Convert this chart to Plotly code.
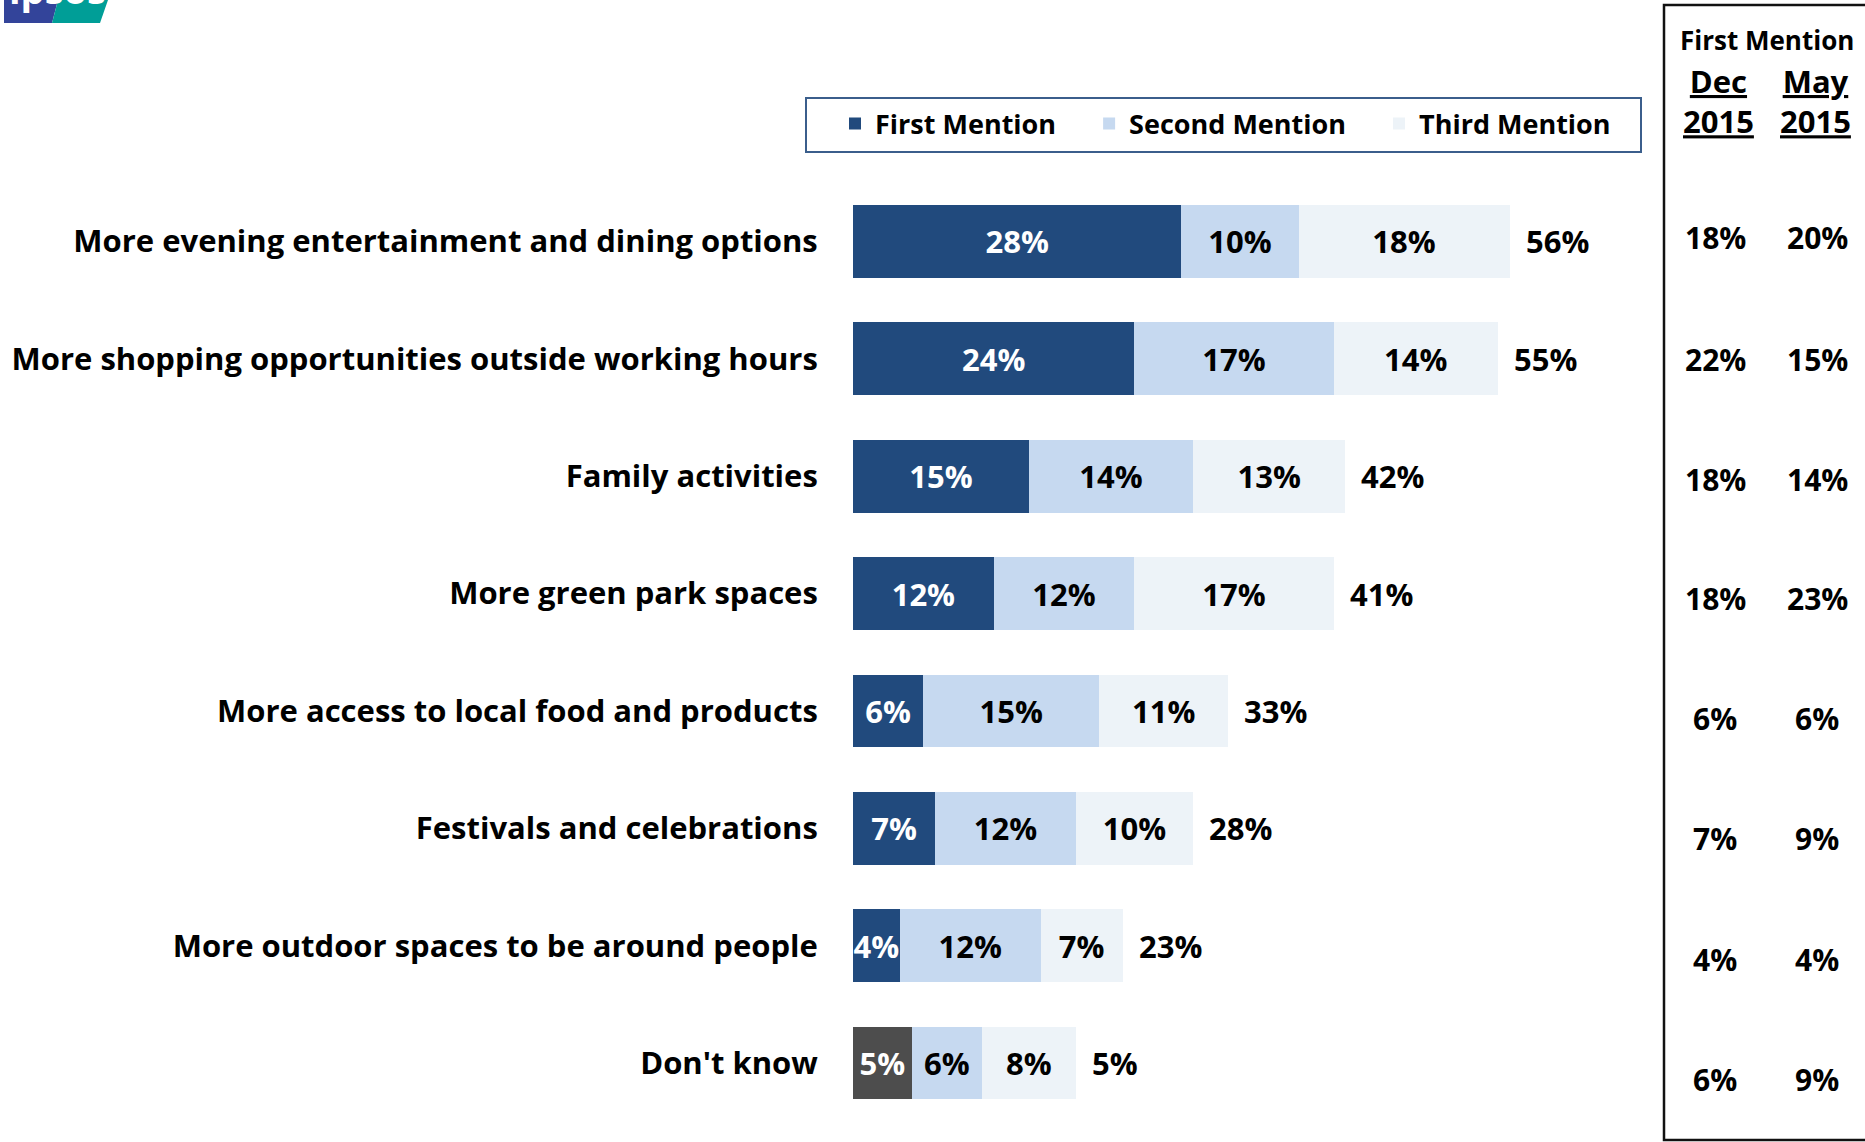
import plotly.graph_objects as go

W, H = 1865, 1142

categories = [
    "More evening entertainment and dining options",
    "More shopping opportunities outside working hours",
    "Family activities",
    "More green park spaces",
    "More access to local food and products",
    "Festivals and celebrations",
    "More outdoor spaces to be around people",
    "Don't know",
]
first_mention = [28, 24, 15, 12, 6, 7, 4, 5]
second_mention = [10, 17, 14, 12, 15, 12, 12, 6]
third_mention = [18, 14, 13, 17, 11, 10, 7, 8]
totals = [56, 55, 42, 41, 33, 28, 23, 5]
dec_2015 = [18, 22, 18, 18, 6, 7, 4, 6]
may_2015 = [20, 15, 14, 23, 6, 9, 4, 9]
series_names = ["First Mention", "Second Mention", "Third Mention"]

NAVY = "#214A7D"
LIGHT = "#C6D9F0"
PALE = "#EDF3F8"
GREY = "#4D4D4D"
FONT = "Open Sans"

def px(x):
    return x / W

def py(y):
    return 1 - y / H

first_colors = [GREY if c == "Don't know" else NAVY for c in categories]

VAL_SIZE = 31
PAD = "\u00a0" * 4  # extra spacing between legend entries

fig = go.Figure()
for name, vals, color, tcolor in [
    (series_names[0], first_mention, first_colors, "white"),
    (series_names[1], second_mention, LIGHT, "black"),
    (series_names[2], third_mention, PALE, "black"),
]:
    fig.add_trace(go.Bar(
        y=categories, x=vals, orientation="h", name=name + PAD,
        marker=dict(color=color, line=dict(width=0)),
        text=[f"{v}%" for v in vals], textposition="inside",
        insidetextanchor="middle", textangle=0, constraintext="none",
        textfont=dict(family=FONT, size=VAL_SIZE, color=tcolor, weight="bold"),
        width=0.62, hoverinfo="skip",
    ))

annotations = []
# totals after the bars
for c, a, b, d, t in zip(categories, first_mention, second_mention, third_mention, totals):
    annotations.append(dict(
        x=a + b + d, y=c, xref="x", yref="y", text=f"{t}%", showarrow=False,
        xanchor="left", yanchor="middle", xshift=14,
        font=dict(family=FONT, size=VAL_SIZE, color="black", weight="bold"),
    ))

# right panel headers
annotations.append(dict(x=px(1767), y=py(40), xref="paper", yref="paper", text="<b>First Mention</b>",
                        xanchor="center", yanchor="middle",
                        showarrow=False, font=dict(family=FONT, size=26, color="black")))
for xc, word in [(1718, "Dec"), (1815, "May")]:
    annotations.append(dict(x=px(xc), y=py(101), xref="paper", yref="paper",
                            text=f"<b><u>{word}</u></b><br><b><u>2015</u></b>",
                            xanchor="center", yanchor="middle",
                            showarrow=False, font=dict(family=FONT, size=31, color="black")))

# right panel values
right_y = [238, 359, 479, 598, 718, 838, 959, 1079]
for yy, d, m in zip(right_y, dec_2015, may_2015):
    annotations.append(dict(x=px(1715), y=py(yy), xref="paper", yref="paper", text=f"<b>{d}%</b>",
                            xanchor="center", yanchor="middle",
                            showarrow=False, font=dict(family=FONT, size=30, color="black")))
    annotations.append(dict(x=px(1817), y=py(yy), xref="paper", yref="paper", text=f"<b>{m}%</b>",
                            xanchor="center", yanchor="middle",
                            showarrow=False, font=dict(family=FONT, size=30, color="black")))

# logo text
annotations.append(dict(x=px(57), y=py(17), xref="paper", yref="paper", text="<b>ipsos</b>",
                        showarrow=False, yanchor="bottom", xanchor="center",
                        font=dict(family=FONT, size=38, color="white")))

shapes = [
    # logo
    dict(type="path", xref="paper", yref="paper",
         path=f"M {px(4)} {py(0)} L {px(58)} {py(0)} L {px(52)} {py(23)} L {px(4)} {py(23)} Z",
         fillcolor="#33449A", line=dict(width=0), layer="below"),
    dict(type="path", xref="paper", yref="paper",
         path=f"M {px(58)} {py(0)} L {px(108)} {py(0)} L {px(100)} {py(23)} L {px(52)} {py(23)} Z",
         fillcolor="#009E97", line=dict(width=0), layer="below"),
    # legend border
    dict(type="rect", xref="paper", yref="paper", x0=px(806), x1=px(1641), y0=py(98), y1=py(152),
         line=dict(color="#3B5E8C", width=2), fillcolor="rgba(0,0,0,0)"),
    # right panel box
    dict(type="rect", xref="paper", yref="paper", x0=px(1664), x1=px(1880), y0=py(5), y1=py(1140),
         line=dict(color="#111111", width=2.5), fillcolor="rgba(0,0,0,0)"),
]

fig.update_layout(
    width=W, height=H,
    margin=dict(l=0, r=0, t=0, b=0),
    paper_bgcolor="white", plot_bgcolor="white",
    barmode="stack",
    showlegend=True,
    legend=dict(orientation="h", x=px(835), xanchor="left", y=py(124), yanchor="middle",
                font=dict(family=FONT, size=27, color="black", weight="bold"),
                bgcolor="rgba(0,0,0,0)", borderwidth=0, traceorder="normal"),
    xaxis=dict(domain=[px(853), px(1640)], range=[0, 787 / 11.724], visible=False, fixedrange=True),
    yaxis=dict(domain=[py(1121.7), py(182.8)], range=[7.5, -0.5], type="category",
               categoryorder="array", categoryarray=categories,
               showgrid=False, zeroline=False, showline=False,
               ticks="outside", ticklen=28, tickcolor="rgba(0,0,0,0)",
               tickfont=dict(family=FONT, size=31, color="black", weight="bold"),
               fixedrange=True),
    annotations=annotations,
    shapes=shapes,
)

fig.write_html("out.html", config={"displayModeBar": False},
               post_script="document.body.style.margin='0px';document.body.style.padding='0px';")
